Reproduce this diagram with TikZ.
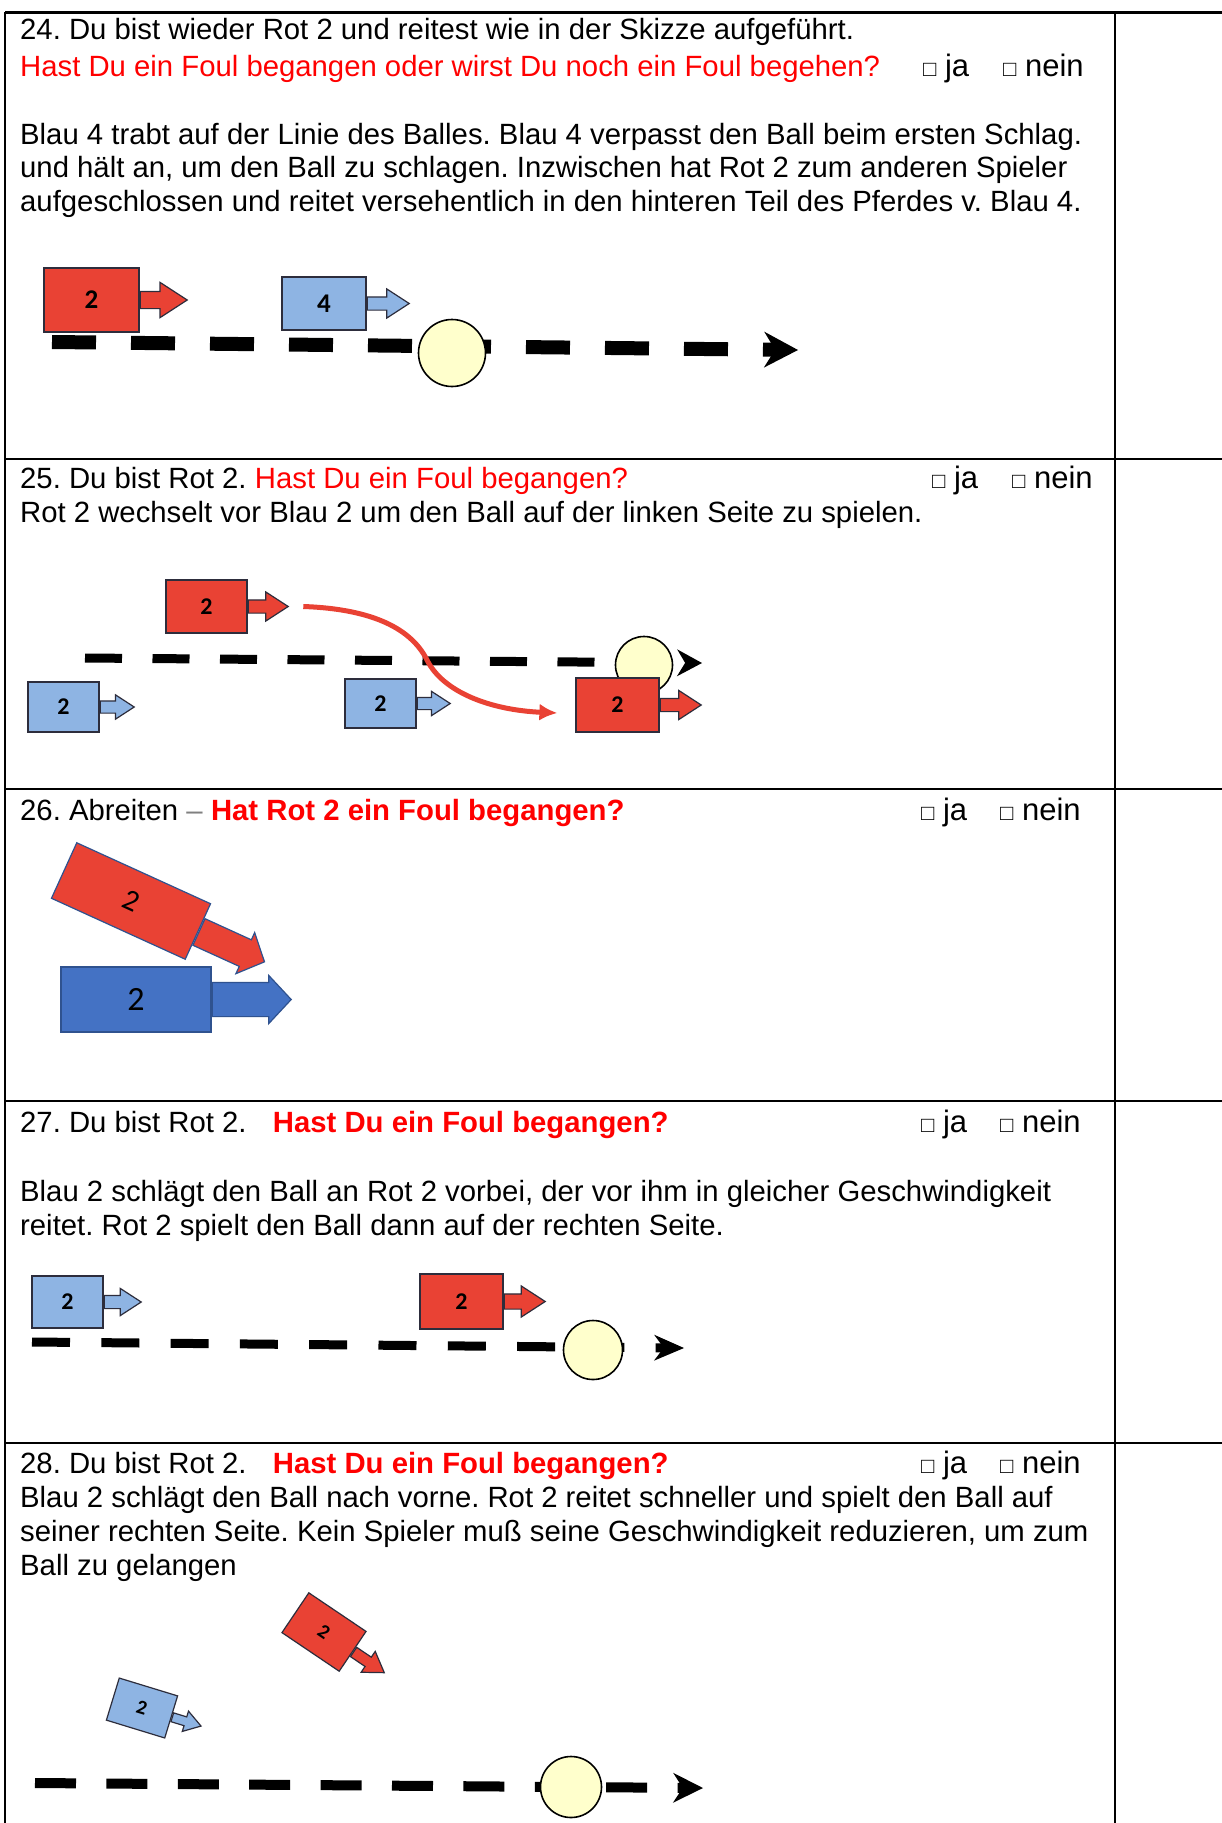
\documentclass[tikz,border=0pt]{standalone}
\usepackage{fontspec}
\setmainfont{Liberation Sans}
\newfontfamily\numfont{Carlito}
\usetikzlibrary{arrows.meta,positioning,shapes.arrows}

\definecolor{rotfill}{RGB}{233,66,52}
\definecolor{blaufill}{RGB}{142,180,227}
\definecolor{dunkelblau}{RGB}{68,114,196}
\definecolor{ballfill}{RGB}{255,255,204}
\definecolor{rim}{RGB}{45,45,60}
\definecolor{rimblau}{RGB}{47,82,143}
\definecolor{askred}{RGB}{255,0,0}
\frenchspacing

\begin{document}
\begin{tikzpicture}
[x=1pt, y=-1pt,
% STYLES
% text lines of the table
txt/.style={anchor=base west, inner sep=0pt, font=\fontsize{29.3}{34}\selectfont},
ask/.style={txt, text=askred},
askbf/.style={ask, font=\fontsize{29.3}{34}\selectfont\bfseries},
% the check boxes get a smaller square
tick/.style={anchor=base west, inner sep=0pt, font=\fontsize{31}{34}\selectfont},
rule/.style={line width=2.5pt},
% riders: a box with a block arrow in front of it
rotbox/.style={rectangle, draw=rim, fill=rotfill, line width=1.2pt, inner sep=0pt, font=\numfont\bfseries\fontsize{24}{24}\selectfont},
blaubox/.style={rotbox, fill=blaufill},
rotpfeil/.style={single arrow, draw=rim, fill=rotfill, line width=1.2pt, inner xsep=0pt, anchor=tail, single arrow tip angle=66},
blaupfeil/.style={rotpfeil, fill=blaufill},
% the ball and the line of the ball
ball/.style={circle, draw=black, fill=ballfill, line width=1.6pt, inner sep=0pt},
track/.style={line width=9pt, dash pattern=on 38pt off 31pt}]

\path[use as bounding box, fill=white] (0,0) rectangle (1222,1823);

% table
\draw[line width=3pt] (5,12) -- (1222,12);
\draw[line width=2pt] (5,12) -- (5,1823);
\draw[line width=1.5pt] (1115,12) -- (1115,1823);
\foreach \y in {459,789,1101,1443}
  \draw[rule] (5,\y) -- (1222,\y);

%%%%%%%%%%%%%%%% 24
\node[txt] (n24) at (20,39) {24. Du bist wieder Rot 2 und reitest wie in der Skizze aufgeführt.};
\node[ask] (q24) at (20,76) {Hast Du ein Foul begangen oder wirst Du noch ein Foul begehen?};
\node[tick] (ja24) at (923,76) {{\fontsize{22}{22}\selectfont □} ja};
\node[tick] (nein24) at (1003,76) {{\fontsize{22}{22}\selectfont □} nein};
\node[txt] (s24a) at (20,144) {Blau 4 trabt auf der Linie des Balles. Blau 4 verpasst den Ball beim ersten Schlag.};
\node[txt] (s24b) at (20,177) {und hält an, um den Ball zu schlagen. Inzwischen hat Rot 2 zum anderen Spieler};
\node[txt] (s24c) at (20,211) {aufgeschlossen und reitet versehentlich in den hinteren Teil des Pferdes v. Blau 4.};

\node[rotbox, minimum width=95pt, minimum height=64pt, font=\numfont\bfseries\fontsize{27}{27}\selectfont] (r24) at (91.5,300) {2};
\node[rotpfeil, minimum height=47pt, inner ysep=8pt, single arrow head extend=9pt] (r24p) at (r24.east) {};
\node[blaubox, minimum width=84pt, minimum height=53pt, font=\numfont\bfseries\fontsize{27}{27}\selectfont] (b24) at (324,303.5) {4};
\node[blaupfeil, minimum height=42pt, inner ysep=6pt, single arrow head extend=8pt] (b24p) at (b24.east) {};

\coordinate (t24a) at (52,342);
\coordinate (t24b) at (798,350);
\draw[track, line width=14pt, dash pattern=on 44pt off 35pt, -{Stealth[length=34pt, width=36pt, line width=0pt]}] (t24a) -- (t24b);
\node[ball, minimum size=67pt] (ball24) at (452,353) {};

%%%%%%%%%%%%%%%% 25
\node[txt] (n25) at (20,488) {25. Du bist Rot 2.};
\node[ask, base right=8pt of n25] (q25) {Hast Du ein Foul begangen?};
\node[tick] (ja25) at (932,488) {{\fontsize{22}{22}\selectfont □} ja};
\node[tick] (nein25) at (1012,488) {{\fontsize{22}{22}\selectfont □} nein};
\node[txt] (s25) at (20,522) {Rot 2 wechselt vor Blau 2 um den Ball auf der linken Seite zu spielen.};

\node[rotbox, minimum width=81pt, minimum height=53pt] (r25a) at (206.5,606.5) {2};
\node[rotpfeil, minimum height=40pt, inner ysep=6pt, single arrow head extend=8pt] (r25ap) at (r25a.east) {};
\node[blaubox, minimum width=71pt, minimum height=50pt] (b25a) at (63.5,707) {2};
\node[blaupfeil, minimum height=34pt, inner ysep=5.5pt, single arrow head extend=6pt] (b25ap) at (b25a.east) {};
\node[blaubox, minimum width=71pt, minimum height=49pt] (b25b) at (380.5,703.5) {2};
\node[blaupfeil, minimum height=33pt, inner ysep=5.5pt, single arrow head extend=6pt] (b25bp) at (b25b.east) {};

\coordinate (t25a) at (85,658);
\coordinate (t25b) at (702,663);
\draw[track, dash pattern=on 37pt off 30.5pt, -{Stealth[length=25pt, width=27pt, line width=0pt]}] (t25a) -- (t25b);
\node[ball, minimum size=57pt] (ball25) at (644,665) {};

\node[rotbox, minimum width=83pt, minimum height=54pt] (r25b) at (617.5,705) {2};
\node[rotpfeil, minimum height=41pt, inner ysep=6pt, single arrow head extend=8pt] (r25bp) at (r25b.east) {};

\draw[line width=5pt, draw=rotfill, -{Latex[length=18pt, width=17pt]}]
  ([xshift=14pt]r25ap.tip) .. controls (375,609) and (412,630) .. (427,660)
  .. controls (443,692) and (490,710) .. ([xshift=-18pt, yshift=-8pt]r25b.west);

%%%%%%%%%%%%%%%% 26
\node[txt] (n26) at (20,820) {26. Abreiten {\color{gray}–}};
\node[askbf, base right=8pt of n26] (q26) {Hat Rot 2 ein Foul begangen?};
\node[tick] (ja26) at (921,820) {{\fontsize{22}{22}\selectfont □} ja};
\node[tick] (nein26) at (1000,820) {{\fontsize{22}{22}\selectfont □} nein};

\node[rotbox, draw=rimblau, rotate=-24.5, minimum width=147pt, minimum height=61pt, font=\numfont\fontsize{30}{30}\selectfont] (r26) at (131,901) {2};
\node[rotpfeil, draw=rimblau, rotate=-24.5, minimum height=72pt, inner ysep=14pt, single arrow head extend=8pt, single arrow tip angle=94] (r26p) at (r26.east) {};
\node[blaubox, fill=dunkelblau, draw=rimblau, minimum width=150pt, minimum height=65pt, font=\numfont\fontsize{34}{34}\selectfont] (b26) at (136,999.5) {2};
\node[blaupfeil, fill=dunkelblau, draw=rimblau, minimum height=79pt, inner ysep=16.5pt, single arrow head extend=7pt, single arrow tip angle=94] (b26p) at (b26.east) {};

%%%%%%%%%%%%%%%% 27
\node[txt] (n27) at (20,1132) {27. Du bist Rot 2.};
\node[askbf, base right=26pt of n27] (q27) {Hast Du ein Foul begangen?};
\node[tick] (ja27) at (921,1132) {{\fontsize{22}{22}\selectfont □} ja};
\node[tick] (nein27) at (1000,1132) {{\fontsize{22}{22}\selectfont □} nein};
\node[txt] (s27a) at (20,1201) {Blau 2 schlägt den Ball an Rot 2 vorbei, der vor ihm in gleicher Geschwindigkeit};
\node[txt] (s27b) at (20,1235) {reitet. Rot 2 spielt den Ball dann auf der rechten Seite.};

\node[blaubox, minimum width=71pt, minimum height=52pt] (b27) at (67.5,1302) {2};
\node[blaupfeil, minimum height=37pt, inner ysep=6pt, single arrow head extend=7pt] (b27p) at (b27.east) {};
\node[rotbox, minimum width=83pt, minimum height=55pt] (r27) at (461.5,1301.5) {2};
\node[rotpfeil, minimum height=41pt, inner ysep=7pt, single arrow head extend=8pt] (r27p) at (r27.east) {};

\coordinate (t27a) at (32,1342);
\coordinate (t27b) at (684,1348);
\draw[track, dash pattern=on 38pt off 31.3pt, -{Stealth[length=30pt, width=26pt, line width=0pt]}] (t27a) -- (t27b);
\node[ball, minimum size=59pt] (ball27) at (593,1350) {};

%%%%%%%%%%%%%%%% 28
\node[txt] (n28) at (20,1473) {28. Du bist Rot 2.};
\node[askbf, base right=26pt of n28] (q28) {Hast Du ein Foul begangen?};
\node[tick] (ja28) at (921,1473) {{\fontsize{22}{22}\selectfont □} ja};
\node[tick] (nein28) at (1000,1473) {{\fontsize{22}{22}\selectfont □} nein};
\node[txt] (s28a) at (20,1507) {Blau 2 schlägt den Ball nach vorne. Rot 2 reitet schneller und spielt den Ball auf};
\node[txt] (s28b) at (20,1541) {seiner rechten Seite. Kein Spieler muß seine Geschwindigkeit reduzieren, um zum};
\node[txt] (s28c) at (20,1575) {Ball zu gelangen};

\node[rotbox, rotate=-34, minimum width=69pt, minimum height=48pt, font=\numfont\bfseries\fontsize{20}{20}\selectfont] (r28) at (324,1632) {2};
\node[rotpfeil, rotate=-34, minimum height=37pt, inner ysep=5pt, single arrow head extend=7pt] (r28p) at (r28.east) {};
\node[blaubox, rotate=-17, minimum width=61pt, minimum height=44pt, font=\numfont\bfseries\fontsize{20}{20}\selectfont] (b28) at (142,1708) {2};
\node[blaupfeil, rotate=-17, minimum height=30pt, inner ysep=4pt, single arrow head extend=6pt] (b28p) at (b28.east) {};

\coordinate (t28a) at (35,1783);
\coordinate (t28b) at (703,1788);
\draw[track, line width=10pt, dash pattern=on 41pt off 30.4pt, -{Stealth[length=30pt, width=30pt, line width=0pt]}] (t28a) -- (t28b);
\node[ball, minimum size=61pt] (ball28) at (571,1787) {};

\end{tikzpicture}
\end{document}
